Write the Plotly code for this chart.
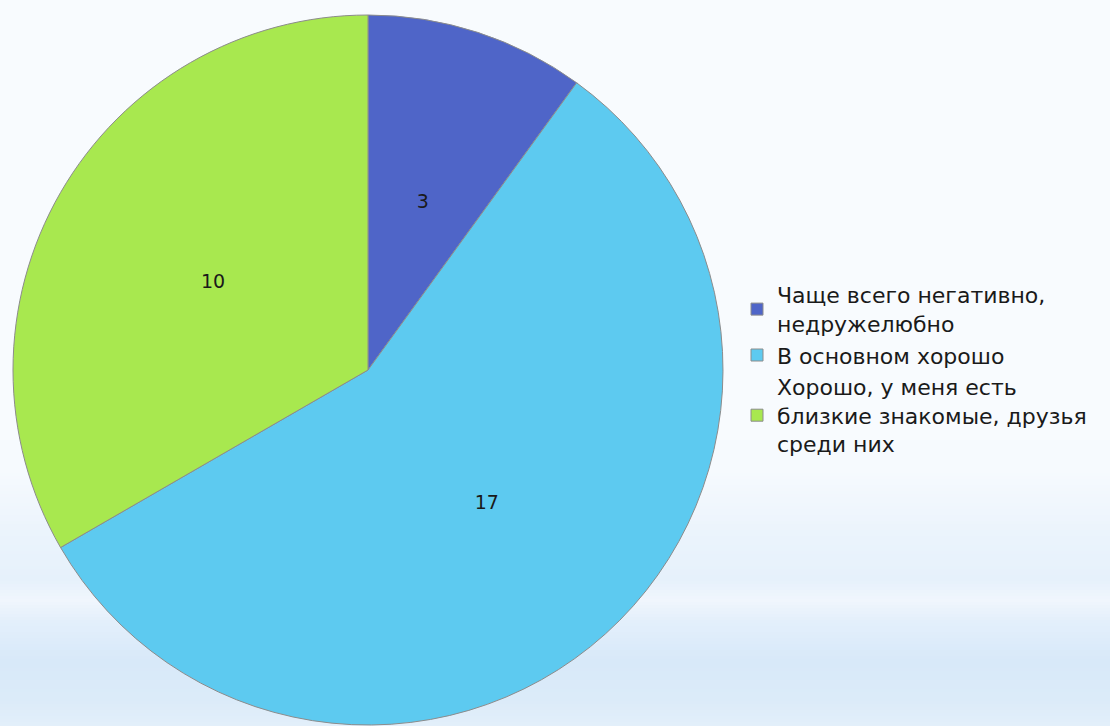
import plotly.graph_objects as go

labels = [
    "Чаще всего негативно,<br>недружелюбно",
    "В основном хорошо",
    "Хорошо, у меня есть<br>близкие знакомые, друзья<br>среди них",
]
values = [3, 17, 10]
colors = ["#4F65C8", "#5DCAF0", "#A8E84F"]

W, H = 1110, 726

# background gradient stops (pixel y from top, colour)
bg_stops = [
    (0, (248, 251, 254)),
    (470, (246, 250, 254)),
    (540, (234, 243, 252)),
    (580, (230, 241, 251)),
    (600, (240, 246, 253)),
    (622, (227, 239, 251)),
    (660, (216, 233, 249)),
    (700, (219, 235, 249)),
    (726, (227, 239, 250)),
]


def colour_at(y):
    for (ya, ca), (yb, cb) in zip(bg_stops[:-1], bg_stops[1:]):
        if ya <= y <= yb:
            t = (y - ya) / (yb - ya) if yb > ya else 0
            return "rgb(%d,%d,%d)" % tuple(round(a + (b - a) * t) for a, b in zip(ca, cb))
    return "rgb(%d,%d,%d)" % bg_stops[-1][1]


shapes = []
step = 3
for y in range(440, H, step):
    shapes.append(dict(type="rect", xref="paper", yref="paper", x0=0, x1=1,
                       y0=1 - (y + step + 0.5) / H, y1=1 - y / H,
                       fillcolor=colour_at(y + step / 2), line=dict(width=0), layer="below"))

cx, cy, R = 368, 370, 355  # pie centre / radius in pixels


def domain_for(f):
    r = R * f
    return dict(x=[(cx - r) / W, (cx + r) / W], y=[1 - (cy + r) / H, 1 - (cy - r) / H])


label_font = dict(family="DejaVu Sans", size=19, color="#1A1A1A")

main = go.Pie(
    labels=labels,
    values=values,
    sort=False,
    direction="clockwise",
    rotation=0,
    marker=dict(colors=colors, line=dict(color="#8C8C8C", width=1)),
    texttemplate=["", "%{value}", ""],
    textposition="inside",
    insidetextorientation="horizontal",
    textfont=label_font,
    domain=domain_for(1.0),
    hoverinfo="label+value",
)

traces = [main]
# text-only rings so each value label sits near half the radius
for f, tmpl in [(0.655, ["%{value}", "", ""]), (0.94, ["", "", "%{value}"])]:
    traces.append(go.Pie(
        labels=labels,
        values=values,
        sort=False,
        direction="clockwise",
        rotation=0,
        marker=dict(colors=["rgba(0,0,0,0)"] * 3, line=dict(width=0)),
        texttemplate=tmpl,
        textposition="inside",
        insidetextorientation="horizontal",
        textfont=label_font,
        domain=domain_for(f),
        showlegend=False,
        hoverinfo="skip",
    ))

fig = go.Figure(traces)

fig.update_layout(
    width=W, height=H,
    margin=dict(l=0, r=0, t=0, b=0),
    paper_bgcolor="#F8FBFE",
    plot_bgcolor="rgba(0,0,0,0)",
    shapes=shapes,
    showlegend=True,
    legend=dict(
        x=737 / W, y=1 - 274 / H, xanchor="left", yanchor="top",
        font=dict(family="DejaVu Sans", size=22, color="#1A1A1A"),
        bgcolor="rgba(0,0,0,0)",
        valign="middle",
        itemwidth=30,
        tracegroupgap=0,
    ),
)

post = "document.body.style.margin='0';document.body.style.overflow='hidden';"
fig.write_html("out.html", post_script=post, config={"displayModeBar": False})
